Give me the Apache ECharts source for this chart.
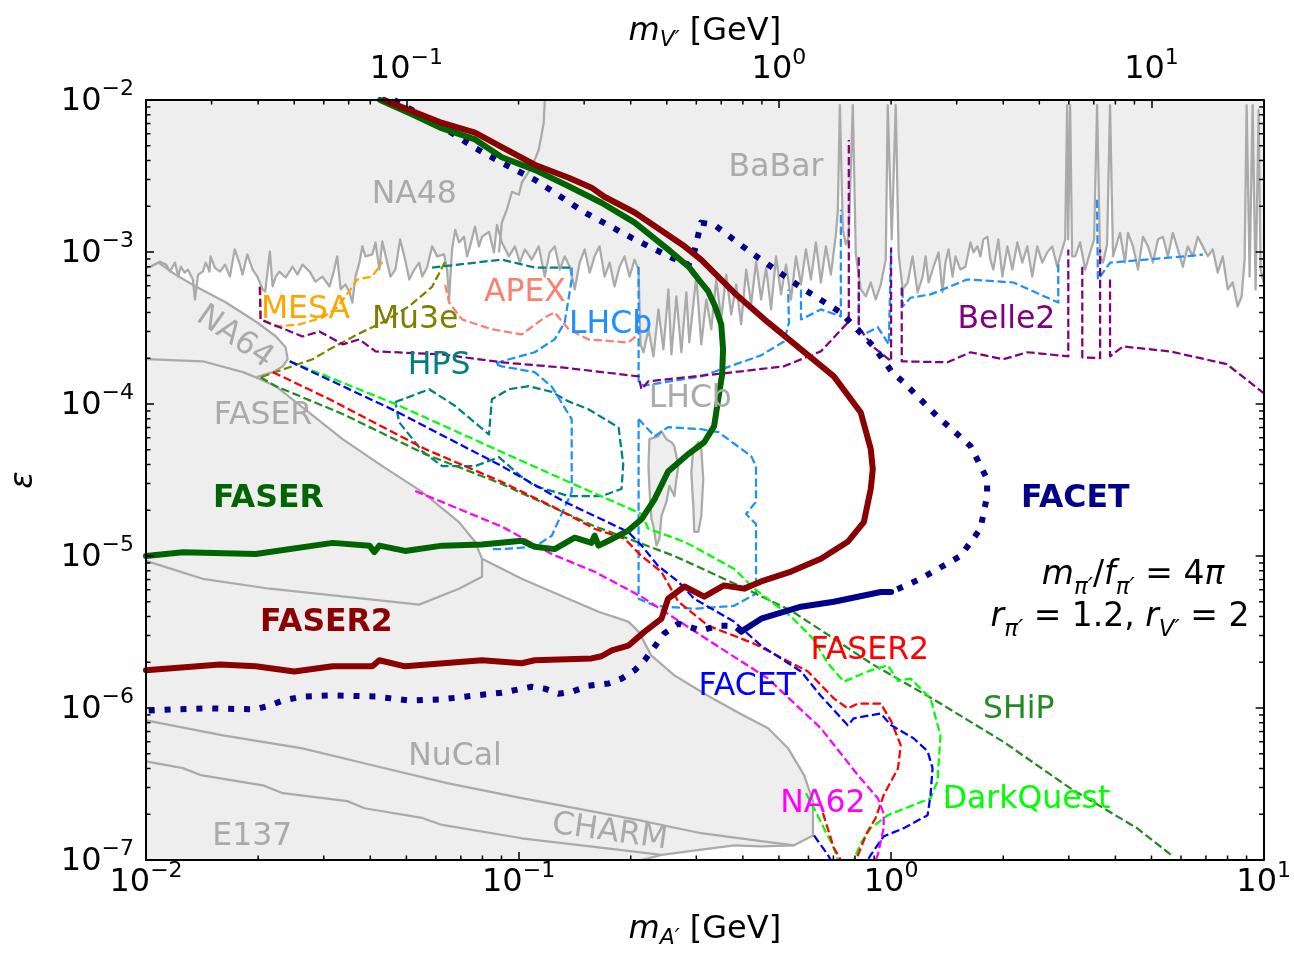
<!DOCTYPE html>
<html>
<head>
<meta charset="utf-8">
<script src="https://cdn.jsdelivr.net/npm/echarts@6/dist/echarts.min.js"></script>
<style>
  html, body { margin: 0; padding: 0; background: #ffffff; }
  #chart { width: 1294px; height: 954px; }
</style>
</head>
<body>
<div id="chart"></div>
<script>
// All points are [m_A' in GeV, epsilon].

// Upper boundary of the NA48 / BaBar excluded band (with resonance spikes).
const babarNa48Edge = [[0.0100,7.9e-4],[0.01025,8.0e-4],[0.0109,8.64e-4],[0.01132,8.26e-4],[0.0116,7.43e-4],[0.01196,8.52e-4],[0.0122,6.89e-4],[0.0124,8.0e-4],[0.0127,7.32e-4],[0.01295,7.66e-4],[0.01336,6.59e-4],[0.01353,4.87e-4],[0.0138,7.1e-4],[0.0142,7.43e-4],[0.01447,8.52e-4],[0.0148,7.43e-4],[0.0149,9.36e-4],[0.0153,7.9e-4],[0.0158,7.43e-4],[0.0163,8.26e-4],[0.0168,6.89e-4],[0.0173,1.04e-3],[0.0178,8.52e-4],[0.01817,7.1e-4],[0.0187,9.64e-4],[0.01933,7.66e-4],[0.0199,6.89e-4],[0.02056,5.67e-4],[0.0209,5.5e-4],[0.0215,1.01e-3],[0.02187,5.93e-4],[0.0223,6.89e-4],[0.0228,7.43e-4],[0.0237,6.79e-4],[0.02474,8.0e-4],[0.0255,7.1e-4],[0.02631,8.26e-4],[0.0275,7.43e-4],[0.0285,6.39e-4],[0.02976,6.89e-4],[0.0311,5.93e-4],[0.032,7.66e-4],[0.0326,9.36e-4],[0.0333,5.67e-4],[0.0343,6.11e-4],[0.0352,5.42e-4],[0.0358,4.65e-4],[0.0365,6.89e-4],[0.0374,8.52e-4],[0.03808,1.089e-3],[0.0388,9.36e-4],[0.0405,9.64e-4],[0.0413,1.156e-3],[0.0423,7.66e-4],[0.04308,1.174e-3],[0.0444,8.52e-4],[0.0453,6.89e-4],[0.0467,7.66e-4],[0.0481,1.21e-3],[0.0496,8.91e-4],[0.0509,6.59e-4],[0.0525,7.66e-4],[0.0541,8.52e-4],[0.05512,6.89e-4],[0.0568,7.9e-4],[0.05862,1.089e-3],[0.0605,9.36e-4],[0.0631,9.64e-4],[0.0643,7.66e-4],[0.0651,4.87e-4],[0.06631,1.04e-3],[0.0676,1.4e-3],[0.0692,1.156e-3],[0.0714,1.259e-3],[0.0727,9.36e-4],[0.0741,1.089e-3],[0.0764,1.466e-3],[0.0783,1.089e-3],[0.07977,1.259e-3],[0.0833,1.358e-3],[0.0859,9.94e-4],[0.0875,1.51e-3],[0.0902,1.156e-3],
  [0.0942,9.36e-4],[0.0978,1.089e-3],[0.1008,8.52e-4],[0.104,1.04e-3],[0.1085,8.91e-4],[0.1133,1.089e-3],[0.1176,6.89e-4],[0.1212,9.94e-4],[0.1251,1.089e-3],[0.129,7.66e-4],[0.133,9.36e-4],[0.1372,8.0e-4],[0.1415,5.67e-4],[0.1459,8.52e-4],[0.1505,1.04e-3],[0.1552,7.32e-4],[0.16,9.36e-4],[0.165,1.089e-3],[0.1702,6.89e-4],[0.1756,8.52e-4],[0.181,5.93e-4],[0.1867,8.0e-4],[0.1925,9.36e-4],[0.1986,6.89e-4],[0.2048,8.91e-4],[0.2099,7.66e-4],
  [0.2125,2.47e-4],[0.2165,2.19e-4],[0.2232,3.1e-4],[0.2302,2.06e-4],[0.2374,4.19e-4],[0.2448,2.29e-4],[0.2525,5.67e-4],[0.2572,2.12e-4],[0.2653,5.1e-4],[0.2735,2.19e-4],[0.2821,5.42e-4],[0.2873,2.54e-4],[0.300,6.89e-4],[0.3094,2.47e-4],[0.3191,4.87e-4],[0.3291,3.1e-4],[0.3394,6.59e-4],[0.3499,3.6e-4],[0.3609,7.1e-4],[0.3722,3.88e-4],[0.3839,6.11e-4],[0.3959,3.34e-4],[0.4083,7.66e-4],[0.421,4.52e-4],[0.4342,8.64e-4],[0.4478,4.87e-4],[0.4618,7.9e-4],[0.4762,4.19e-4],[0.4911,9.36e-4],[0.5065,5.26e-4],[0.5224,8.26e-4],[0.5387,4.87e-4],
  [0.5556,9.36e-4],[0.5729,6.11e-4],[0.5908,1.04e-3],[0.6093,6.59e-4],[0.6284,1.156e-3],[0.648,6.3e-4],[0.6683,1.089e-3],[0.6892,7.1e-4],[0.7108,1.298e-3],[0.7196,1.9e-3],[0.7286,9.27e-3],[0.7421,1.4e-3],[0.756,1.122e-3],[0.770,1.259e-3],[0.7893,9.27e-3],[0.804,9.64e-4],[0.8292,5.67e-4],[0.8552,5.1e-4],[0.8819,6.3e-4],[0.9095,4.87e-4],[0.938,6.11e-4],[0.9674,8.91e-4],[0.9794,9.27e-3],[1.004,1.21e-3],[1.029,9.27e-3],[1.048,9.64e-4],
  [1.074,5.67e-4],[1.108,6.3e-4],[1.142,9.36e-4],[1.178,5.42e-4],[1.215,6.89e-4],[1.238,9.36e-4],[1.261,6.3e-4],[1.30,8.0e-4],[1.341,9.94e-4],[1.374,5.42e-4],[1.399,8.52e-4],[1.426,1.04e-3],[1.462,6.89e-4],[1.489,9.36e-4],[1.535,7.66e-4],[1.583,8.0e-4],[1.633,1.156e-3],[1.664,9.94e-4],[1.705,1.089e-3],[1.737,9.36e-4],[1.769,1.21e-3],[1.814,1.259e-3],[1.847,8.91e-4],[1.882,7.66e-4],[1.94,1.21e-3],[1.989,6.89e-4],[2.052,1.089e-3],[2.116,7.66e-4],[2.182,1.156e-3],[2.25,8.52e-4],[2.32,1.089e-3],[2.393,6.89e-4],[2.468,1.089e-3],[2.545,8.52e-4],[2.625,9.94e-4],[2.707,1.089e-3],[2.792,8.0e-4],[2.879,1.04e-3],[2.933,1.21e-3],[2.969,9.27e-3],[2.988,1.21e-3],[3.024,9.27e-3],[3.061,9.36e-4],[3.119,9.36e-4],[3.217,1.156e-3],[3.318,7.66e-4],[3.421,9.94e-4],[3.507,1.21e-3],[3.572,9.27e-3],[3.639,9.36e-4],[3.707,8.52e-4],[3.80,1.122e-3],[3.87,9.27e-3],[3.942,9.36e-4],[4.116,1.338e-3],[4.245,8.52e-4],[4.324,1.338e-3],[4.46,1.089e-3],[4.60,7.66e-4],[4.743,1.259e-3],[4.892,1.089e-3],[5.045,8.52e-4],[5.203,1.21e-3],[5.366,1.259e-3],[5.534,9.36e-4],[5.706,1.338e-3],[5.884,1.04e-3],[6.068,8.0e-4],[6.258,1.089e-3],[6.454,9.36e-4],[6.657,1.259e-3],[6.865,1.089e-3],[7.08,9.36e-4],[7.301,1.04e-3],[7.53,7.32e-4],[7.765,9.36e-4],[8.008,5.67e-4],[8.259,6.3e-4],[8.517,4.38e-4],[8.729,5.1e-4],[8.892,8.91e-4],[9.002,9.27e-3],[9.17,6.89e-4],[9.341,9.27e-3],[9.516,5.67e-4],[9.694,8.6e-3],[9.81,7.66e-4],[10,6.3e-4]];

// Edge of the NA48 region inside the upper band.
const na48Edge = [[0.0886,9.94e-4],[0.0902,1.56e-3],[0.093,1.9e-3],[0.096,2.49e-3],[0.1002,2.38e-3],[0.102,2.86e-3],[0.1085,3.63e-3],[0.1133,4.7e-3],[0.1168,7.06e-3],[0.1176,1e-2]];

// NA64 + FASER + beam-dump envelope (lower-left excluded region).
const beamDumpEdge = [[0.0103,8.0e-4],[0.0108,8.52e-4],[0.012,7.1e-4],[0.0136,5.93e-4],[0.0164,4.65e-4],[0.0197,3.49e-4],[0.0223,2.79e-4],[0.0237,2.36e-4],[0.024,1.97e-4],[0.0233,1.77e-4],[0.0219,1.62e-4],[0.0197,1.5e-4],[0.0223,1.31e-4],[0.0243,1.11e-4],[0.0337,5.87e-5],[0.0431,3.9e-5],[0.0551,2.64e-5],[0.0692,1.67e-5],[0.0764,1.24e-5],[0.0798,9.58e-6],[0.102,7.08e-6],[0.1176,6.09e-6],[0.164,4.3e-6],[0.197,3.7e-6],[0.21,3.18e-6],[0.227,2.22e-6],[0.262,1.64e-6],[0.323,1.2e-6],[0.403,8.9e-7],[0.4675,7.35e-7],[0.529,5.43e-7],[0.584,3.62e-7],[0.617,2.44e-7],[0.617,1.45e-7],[0.549,1.25e-7],[0.448,1.23e-7],[0.379,1.25e-7],[0.242,1.08e-7],[0.214,1.0e-7]];
const na64LowerEdge = [[0.01,1.97e-4],[0.0142,1.91e-4],[0.0182,1.62e-4],[0.0197,1.5e-4]];
const orsayEdge = [[0.01,9.29e-6],[0.0142,7.08e-6],[0.0215,6.09e-6],[0.0541,4.79e-6],[0.0692,6.09e-6],[0.0798,7.3e-6],[0.0798,9.58e-6]];
const nucalEdge = [[0.01,8.3e-7],[0.0161,6.6e-7],[0.0263,5.43e-7],[0.0405,4.2e-7],[0.0643,3.2e-7],[0.102,2.55e-7],[0.21,1.83e-7],[0.309,1.5e-7],[0.448,1.33e-7],[0.549,1.25e-7]];
const e137CharmEdge = [[0.01,4.46e-7],[0.01256,4.02e-7],[0.014,3.62e-7],[0.0206,3.1e-7],[0.0233,2.75e-7],[0.0347,2.44e-7],[0.0386,2.19e-7],[0.0551,1.89e-7],[0.0624,1.7e-7],[0.102,1.39e-7],[0.1477,1.25e-7],[0.242,1.08e-7]];

// LHCb displaced-search excluded islands.
const lhcbIslandA = [[0.2246,5.87e-5],[0.2374,6.14e-5],[0.2418,6.63e-5],[0.2494,5.87e-5],[0.2572,5.61e-5],[0.262,5.28e-5],[0.2685,3.9e-5],[0.2653,3.21e-5],[0.262,2.48e-5],[0.254,2.89e-5],[0.2494,2.27e-5],[0.2418,1.83e-5],[0.2389,1.3e-5],[0.2345,1.17e-5],[0.2302,1.57e-5],[0.2274,1.75e-5],[0.2246,2.76e-5],[0.2232,3.9e-5]];
const lhcbIslandB = [[0.2945,5.05e-5],[0.3037,5.61e-5],[0.3094,5.05e-5],[0.3132,3.21e-5],[0.3094,1.83e-5],[0.3037,1.44e-5],[0.2963,1.44e-5],[0.2945,2.13e-5],[0.2909,3.56e-5]];

// Projected reaches (thick curves).
const faserReach = [[0.0425,1e-2],[0.0509,8.2e-3],[0.0624,6.5e-3],[0.0764,5.5e-3],[0.0902,4.2e-3],[0.1105,3.47e-3],[0.1355,2.73e-3],[0.167,2.11e-3],[0.205,1.56e-3],[0.252,1.04e-3],[0.286,8.0e-4],[0.309,6.3e-4],[0.323,5.5e-4],[0.337,4.4e-4],[0.35,3.34e-4],[0.354,2.29e-4],[0.352,1.57e-4],[0.3435,1.075e-4],[0.335,7.15e-5],[0.315,5.6e-5],[0.286,4.7e-5],[0.252,3.6e-5],[0.232,2.37e-5],[0.214,1.75e-5],[0.197,1.47e-5],[0.1745,1.26e-5],[0.164,1.17e-5],[0.16,1.36e-5],[0.157,1.22e-5],[0.1415,1.32e-5],[0.125,1.11e-5],[0.1105,1.15e-5],[0.102,1.26e-5],[0.0798,1.19e-5],[0.0624,1.17e-5],[0.0496,1.08e-5],[0.0423,1.17e-5],[0.041,1.06e-5],[0.0398,1.17e-5],[0.0317,1.22e-5],[0.0197,1.03e-5],[0.01256,1.06e-5],[0.01,1.0e-5]];
const faser2Reach = [[0.0436,1e-2],[0.0509,8.6e-3],[0.0624,7.06e-3],[0.0764,6.1e-3],[0.0902,4.9e-3],[0.1105,3.75e-3],[0.1363,3.08e-3],[0.157,2.65e-3],[0.170,2.31e-3],[0.205,1.82e-3],[0.279,1.09e-3],[0.309,8.9e-4],[0.379,5.4e-4],[0.4675,3.44e-4],[0.573,2.29e-4],[0.702,1.52e-4],[0.829,8.8e-5],[0.882,5.05e-5],[0.893,3.73e-5],[0.882,2.76e-5],[0.845,1.67e-5],[0.765,1.24e-5],[0.648,9.58e-6],[0.539,7.9e-6],[0.448,6.8e-6],[0.403,6.1e-6],[0.356,6.4e-6],[0.315,5.4e-6],[0.279,6.3e-6],[0.252,5.24e-6],[0.242,3.87e-6],[0.218,3.18e-6],[0.197,2.57e-6],[0.178,2.39e-6],[0.167,2.19e-6],[0.157,2.12e-6],[0.1105,2.06e-6],[0.102,1.97e-6],[0.0798,2.06e-6],[0.0496,1.88e-6],[0.0423,2.06e-6],[0.0405,1.88e-6],[0.0317,1.88e-6],[0.025,1.74e-6],[0.0197,1.88e-6],[0.0158,1.93e-6],[0.01,1.77e-6]];
const facetReachUpper = [[0.0464,1e-2],[0.0624,6.65e-3],[0.0764,4.84e-3],[0.0902,3.86e-3],[0.1105,2.99e-3],[0.1505,1.82e-3],[0.205,1.21e-3],[0.257,9.2e-4],[0.286,8.26e-4],[0.296,9.9e-4],[0.309,1.56e-3],[0.335,1.51e-3],[0.421,9.9e-4],[0.573,5.84e-4],[0.733,4.0e-4],[0.898,2.39e-4],[1.006,1.62e-4],[1.08,1.39e-4],[1.33,8.3e-5],[1.633,5.3e-5],[1.81,3.21e-5],[1.81,2.48e-5],[1.737,1.51e-5],[1.535,1.0e-5],[1.2,7.08e-6],[1.0,5.8e-6]];
const facetReachSolid = [[1.0,5.8e-6],[0.938,5.8e-6],[0.702,5.0e-6],[0.573,4.64e-6],[0.448,3.87e-6],[0.396,3.18e-6]];
const facetReachLower = [[0.396,3.18e-6],[0.379,3.48e-6],[0.344,3.48e-6],[0.309,3.23e-6],[0.2685,3.59e-6],[0.246,3.09e-6],[0.232,2.54e-6],[0.218,2.06e-6],[0.205,1.77e-6],[0.189,1.56e-6],[0.1745,1.45e-6],[0.154,1.40e-6],[0.1389,1.28e-6],[0.128,1.24e-6],[0.1176,1.34e-6],[0.1085,1.38e-6],[0.0902,1.26e-6],[0.0764,1.21e-6],[0.0624,1.14e-6],[0.0509,1.12e-6],[0.0413,1.19e-6],[0.0317,1.21e-6],[0.0263,1.19e-6],[0.0233,1.12e-6],[0.0215,1.04e-6],[0.0197,9.8e-7],[0.0148,9.94e-7],[0.012,9.8e-7],[0.01,9.6e-7]];

// Other experiments (thin dashed curves).
const mesaCurve = [[0.0203,5.9e-4],[0.0203,3.6e-4],[0.0223,3.24e-4],[0.0258,3.34e-4],[0.0298,3.71e-4],[0.0326,4.32e-4],[0.0354,5.67e-4],[0.0369,6.59e-4],[0.0405,6.9e-4],[0.0431,8.6e-4]];
const mu3eCurve = [[0.0635,8.6e-4],[0.0586,5.9e-4],[0.0509,4.4e-4],[0.0431,3.44e-4],[0.0369,2.87e-4],[0.0311,2.29e-4],[0.028,1.97e-4],[0.0203,1.5e-4]];
const apexCurve = [[0.0635,6.1e-4],[0.0651,4.65e-4],[0.0705,3.6e-4],[0.0848,3.1e-4],[0.102,2.87e-4],[0.1176,3.71e-4],[0.125,4.0e-4],[0.1363,3.1e-4],[0.154,2.66e-4],[0.197,2.54e-4],[0.21,2.87e-4]];
const hpsTop = [[0.0586,7.9e-4],[0.0902,8.91e-4],[0.1105,7.9e-4],[0.1389,7.9e-4]];
const hpsLoop = [[0.0467,1.03e-4],[0.0576,1.25e-4],[0.0676,9.7e-5],[0.0833,6.3e-5],[0.0848,1.075e-4],[0.0942,1.25e-4],[0.1066,1.31e-4],[0.1228,1.2e-4],[0.1363,1.04e-4],[0.154,9.24e-5],[0.1856,7.0e-5],[0.191,4.0e-5],[0.189,2.76e-5],[0.167,2.48e-5],[0.1363,2.48e-5],[0.1105,2.89e-5],[0.102,3.31e-5],[0.0886,4.47e-5],[0.0764,3.9e-5],[0.0624,3.9e-5],[0.0551,4.9e-5],[0.0478,7.6e-5],[0.0467,1.03e-4]];
const lhcbPrompt = [[0.1389,7.9e-4],[0.1389,6.59e-4],[0.133,3.44e-4],[0.125,2.66e-4],[0.1105,2.19e-4],[0.0902,1.91e-4],[0.0864,1.83e-4],[0.0902,1.77e-4],[0.1105,1.62e-4],[0.1228,1.3e-4],[0.1389,7.95e-5],[0.1389,2.64e-5],[0.1228,1.36e-5],[0.1105,1.15e-5],[0.0902,1.11e-5],[0.0848,1.11e-5]];
const lhcbHighMass = [
  [[0.21,8.0e-4],[0.21,1.41e-4],[0.2165,1.32e-4],[0.309,1.52e-4],[0.448,2.09e-4],[0.516,2.58e-4],[0.532,3.44e-4],[0.529,5.67e-4]],
  [[0.573,5.67e-4],[0.573,3.6e-4],[0.648,4.19e-4],[0.733,3.77e-4],[0.733,1.9e-3]],
  [[0.819,5.5e-4],[0.819,3.2e-4],[0.845,2.87e-4],[0.921,3.2e-4],[0.986,2.47e-4],[1.0,1.07e-3]],
  [[1.074,5.67e-4],[1.074,4.38e-4],[1.128,5.0e-4],[1.276,5.26e-4],[1.6,6.59e-4],[2.13,6.3e-4],[2.81,4.65e-4],[2.81,8.5e-4]],
  [[3.57,2.21e-3],[3.59,6.59e-4],[3.87,8.5e-4],[6.87,9.6e-4]]
];
const lhcbDisplaced = [[0.21,7.95e-5],[0.21,5.24e-6],[0.232,4.7e-6],[0.296,4.5e-6],[0.379,4.7e-6],[0.434,5.65e-6],[0.434,1.62e-5],[0.408,1.89e-5],[0.434,2.27e-5],[0.434,3.9e-5],[0.421,4.54e-5],[0.344,6.53e-5],[0.309,6.83e-5],[0.252,7.04e-5],[0.232,6.14e-5],[0.21,7.95e-5]];
const belle2Curve = [
  [[0.0202,5.9e-4],[0.0203,3.6e-4],[0.0263,2.78e-4],[0.0292,3.0e-4],[0.0337,2.47e-4],[0.0374,2.66e-4],[0.0413,2.22e-4],[0.0624,2.12e-4],[0.0902,1.88e-4],[0.1306,1.74e-4],[0.21,1.52e-4],[0.2138,1.25e-4],[0.223,1.41e-4],[0.379,1.62e-4],[0.516,1.77e-4],[0.648,2.22e-4],[0.77,3.49e-4],[0.77,5.46e-3]],
  [[0.819,9.22e-4],[0.819,3.2e-4],[0.845,2.87e-4],[0.898,2.36e-4],[1.0,1.91e-4],[1.0,1.07e-3]],
  [[1.068,5.84e-4],[1.068,1.91e-4],[1.417,1.88e-4],[1.633,2.19e-4],[2.0,1.97e-4],[2.32,2.19e-4],[2.99,2.06e-4],[2.99,1.04e-3]],
  [[3.26,8.0e-4],[3.26,2.03e-4],[3.64,2.0e-4],[3.64,1.04e-3]],
  [[3.87,6.59e-4],[3.87,2.06e-4],[4.19,2.39e-4],[5.6,2.22e-4],[7.96,1.83e-4],[10,1.18e-4]]
];
const shipCurve = [[0.0203,1.5e-4],[0.0223,1.31e-4],[0.0337,8.6e-5],[0.0562,4.68e-5],[0.0902,2.98e-5],[0.1105,2.37e-5],[0.16,1.57e-5],[0.197,1.3e-5],[0.262,1.0e-5],[0.396,6.28e-6],[0.539,4.37e-6],[0.702,2.86e-6],[0.882,1.97e-6],[1.332,1.1e-6],[2.0,6.0e-7],[3.024,2.97e-7],[4.57,1.62e-7],[5.7,1.06e-7]];
const darkQuestCurve = [
  [[0.0243,1.91e-4],[0.0467,1.0e-4],[0.0902,4.83e-5],[0.1363,3.07e-5],[0.214,1.89e-5],[0.223,1.51e-5],[0.279,1.24e-5],[0.379,8.24e-6],[0.429,6.09e-6],[0.539,4.0e-6],[0.617,2.86e-6],[0.6765,1.97e-6],[0.747,1.49e-6],[0.866,1.74e-6],[0.979,1.91e-6],[1.044,1.51e-6],[1.128,1.56e-6],[1.276,1.156e-6],[1.357,6.6e-7],[1.332,3.3e-7],[1.276,2.55e-7],[0.979,1.97e-7],[0.882,1.62e-7],[0.829,1.29e-7],[0.794,1.0e-7]],
  [[0.591,2.75e-7],[0.621,2.19e-7],[0.702,1.2e-7],[0.72,1.0e-7]]
];
const faser2Curve = [
  [[0.0219,1.62e-4],[0.0311,1.075e-4],[0.0562,5.05e-5],[0.0902,3.07e-5],[0.1228,2.13e-5],[0.16,1.51e-5],[0.1925,1.3e-5],[0.2138,1.0e-5],[0.2418,7.87e-6],[0.2685,5.0e-6],[0.323,3.48e-6],[0.429,2.65e-6],[0.598,1.74e-6],[0.702,1.156e-6],[0.765,9.94e-7],[0.814,1.07e-6],[0.938,1.07e-6],[1.0,8.2e-7],[1.061,5.7e-7],[1.044,4.02e-7],[0.955,2.67e-7],[0.909,1.89e-7],[0.86,1.5e-7],[0.819,1.11e-7],[0.804,1.0e-7]],
  [[0.656,2.04e-7],[0.702,1.2e-7],[0.733,1.0e-7]]
];
const facetCurve = [
  [[0.0243,1.91e-4],[0.0467,9.0e-5],[0.0902,3.9e-5],[0.133,2.27e-5],[0.197,1.44e-5],[0.214,1.17e-5],[0.237,8.6e-6],[0.2685,6.77e-6],[0.296,5.24e-6],[0.379,3.7e-6],[0.448,2.57e-6],[0.573,1.74e-6],[0.648,1.2e-6],[0.765,7.7e-7],[0.794,8.55e-7],[0.938,9.2e-7],[1.0,7.7e-7],[1.149,6.32e-7],[1.253,5.2e-7],[1.292,4.02e-7],[1.276,2.67e-7],[1.253,1.97e-7],[1.081,1.62e-7],[0.955,1.43e-7],[0.882,1.08e-7],[0.866,1.0e-7]],
  [[0.621,1.45e-7],[0.6765,1.08e-7],[0.689,1.0e-7]]
];
const na62Curve = [[0.0528,2.68e-5],[0.0902,1.56e-5],[0.1228,1.03e-5],[0.16,7.87e-6],[0.2138,5.4e-6],[0.309,3.0e-6],[0.4675,1.56e-6],[0.648,7.35e-7],[0.814,3.62e-7],[0.921,2.55e-7],[0.955,2.03e-7],[0.955,1.62e-7],[0.921,1.08e-7],[0.909,1.0e-7]];

// Axis ticks.
const xDecades = [0.01, 0.1, 1];          // bottom axis, m_A'
const vDecades = [0.01, 0.1, 1, 10];      // top axis, m_V'
const yDecades = [1e-7, 1e-6, 1e-5, 1e-4, 1e-3];
const minorMantissas = [2, 3, 4, 5, 6, 7, 8, 9];

// Text annotations anchored in data coordinates.
const GRAY = '#aaaaaa';
const annotations = [
  { text: 'NA48', at: [0.0525, 2.38e-3], color: GRAY },
  { text: 'BaBar', at: [0.491, 3.58e-3], color: GRAY },
  { text: 'MESA', at: [0.0268, 4.19e-4], color: '#ffa500' },
  { text: 'Mu3e', at: [0.0528, 3.6e-4], color: '#808000' },
  { text: 'APEX', at: [0.104, 5.42e-4], color: '#fa8072' },
  { text: 'LHCb', at: [0.1766, 3.34e-4], color: '#1e90ff' },
  { text: 'HPS', at: [0.0612, 1.77e-4], color: '#008080' },
  { text: 'NA64', at: [0.0173, 2.74e-4], color: GRAY, rotate: -35 },
  { text: 'FASER', at: [0.0206, 8.3e-5], color: GRAY },
  { text: 'LHCb', at: [0.289, 1.075e-4], color: GRAY },
  { text: 'Belle2', at: [2.04, 3.6e-4], color: '#800080' },
  { text: 'FASER', at: [0.0213, 2.37e-5], color: '#006400', bold: true },
  { text: 'FASER2', at: [0.0305, 3.64e-6], color: '#8b0000', bold: true },
  { text: 'FACET', at: [3.12, 2.37e-5], color: '#00008b', bold: true },
  { text: '{i|m}{sub|\u03c0\u2032}{n|/}{i|f}{sub|\u03c0\u2032}{n| = 4}{i|\u03c0}', at: [4.46, 7.3e-6], color: '#000', math: true },
  { text: '{i|r}{sub|\u03c0\u2032}{n| = 1.2, }{i|r}{sub|V\u2032}{n| = 2}', at: [4.116, 3.87e-6], color: '#000', math: true },
  { text: 'FASER2', at: [0.877, 2.39e-6], color: '#ff0000' },
  { text: 'FACET', at: [0.411, 1.38e-6], color: '#0000ff' },
  { text: 'SHiP', at: [2.2, 9.8e-7], color: '#228b22' },
  { text: 'NA62', at: [0.656, 2.36e-7], color: '#ff00ff' },
  { text: 'DarkQuest', at: [2.31, 2.47e-7], color: '#00ff00' },
  { text: 'NuCal', at: [0.0675, 4.74e-7], color: GRAY },
  { text: 'E137', at: [0.0193, 1.43e-7], color: GRAY },
  { text: 'CHARM', at: [0.1756, 1.52e-7], color: GRAY, rotate: -8 }
];

// ---------------------------------------------------------------------------
const FONT = 'DejaVu Sans';
const FILL = '#eeeeee';
const DASH = [8.3, 3.6];
const DOT = [6, 9.9];

function mathRich(size, subSize, drop) {
  return {
    i: { fontFamily: FONT, fontStyle: 'italic', fontSize: size, color: '#000', lineHeight: size + 2, verticalAlign: 'top' },
    n: { fontFamily: FONT, fontSize: size, color: '#000', lineHeight: size + 2, verticalAlign: 'top' },
    sub: { fontFamily: FONT, fontStyle: 'italic', fontSize: subSize, color: '#000', lineHeight: subSize, padding: [drop, 0, 0, 0], verticalAlign: 'top' }
  };
}
// "10" sits at the bottom of a tall line, the exponent at its top.
const supRich = {
  b: { fontFamily: FONT, fontSize: 32, color: '#000', lineHeight: 43, padding: [0, 0, 4, 0], verticalAlign: 'bottom' },
  s: { fontFamily: FONT, fontSize: 22, color: '#000', lineHeight: 22, verticalAlign: 'top' }
};
function decadeLabel(v) {
  const e = Math.log10(v);
  const r = Math.round(e);
  if (Math.abs(e - r) > 1e-6) return '';
  return '{b|10}{s|' + (r < 0 ? '\u2212' + (-r) : String(r)) + '}';
}

const series = [];

function addRegion(points, z) {
  series.push({
    type: 'custom', xAxisIndex: 0, yAxisIndex: 0, z: z, silent: true,
    data: [[1, 1e-4]],
    renderItem: function (params, api) {
      return { type: 'polygon', shape: { points: points.map(function (p) { return api.coord(p); }) },
               style: { fill: FILL, stroke: null } };
    }
  });
}
function addIsland(points, z) {
  series.push({
    type: 'custom', xAxisIndex: 0, yAxisIndex: 0, z: z, silent: true,
    data: [[1, 1e-4]],
    renderItem: function (params, api) {
      return { type: 'polygon', shape: { points: points.map(function (p) { return api.coord(p); }) },
               style: { fill: FILL, stroke: GRAY, lineWidth: 2.25, lineJoin: 'round' } };
    }
  });
}
function addLine(points, color, width, type, z, cap) {
  series.push({
    type: 'line', data: points, symbol: 'none', showSymbol: false, silent: true, z: z,
    smooth: false, clip: true, animation: false,
    lineStyle: { color: color, width: width, type: type || 'solid', cap: cap || 'butt', join: 'round' },
    emphasis: { disabled: true }
  });
}
function addSegments(segs, color, width, type, z) {
  segs.forEach(function (s) { addLine(s, color, width, type, z); });
}

// Excluded regions
addRegion(babarNa48Edge.concat([[10, 1e-2], [0.01, 1e-2]]), 1);
addRegion([[0.01, 7.8e-4]].concat(beamDumpEdge, [[0.01, 1e-7]]), 1);
addIsland(lhcbIslandA, 2);
addIsland(lhcbIslandB, 2);

// Excluded-region edges
addLine(babarNa48Edge, GRAY, 2.25, 'solid', 2);
addLine(na48Edge, GRAY, 2.25, 'solid', 2);
addLine(beamDumpEdge, GRAY, 2.25, 'solid', 2);
addLine(na64LowerEdge, GRAY, 2.25, 'solid', 2);
addLine(orsayEdge, GRAY, 2.25, 'solid', 2);
addLine(nucalEdge, GRAY, 2.25, 'solid', 2);
addLine(e137CharmEdge, GRAY, 2.25, 'solid', 2);

// Other experiments
addLine(mesaCurve, '#ffa500', 2.25, DASH, 3);
addLine(mu3eCurve, '#808000', 2.25, DASH, 3);
addLine(apexCurve, '#fa8072', 2.25, DASH, 3);
addLine(hpsTop, '#008080', 2.25, DASH, 3);
addLine(hpsLoop, '#008080', 2.25, DASH, 3);
addLine(lhcbPrompt, '#1e90ff', 2.25, DASH, 3);
addSegments(lhcbHighMass, '#1e90ff', 2.25, DASH, 3);
addLine(lhcbDisplaced, '#1e90ff', 2.25, DASH, 3);
addSegments(belle2Curve, '#800080', 2.25, DASH, 3);
addLine(shipCurve, '#228b22', 2.25, DASH, 3);
addSegments(darkQuestCurve, '#00ff00', 2.25, DASH, 3);
addSegments(faser2Curve, '#ff0000', 2.25, DASH, 3);
addSegments(facetCurve, '#0000ff', 2.25, DASH, 3);
addLine(na62Curve, '#ff00ff', 2.25, DASH, 3);

// Projected reaches
addLine(facetReachUpper, '#00008b', 6, DOT, 4);
addLine(facetReachLower, '#00008b', 6, DOT, 4);
addLine(facetReachSolid, '#00008b', 6, 'solid', 5, 'round');
addLine(faserReach, '#006400', 6, 'solid', 5, 'round');
addLine(faser2Reach, '#8b0000', 6, 'solid', 5, 'round');

// Minor ticks
const xMinor = [], vMinor = [], yMinor = [];
xDecades.forEach(function (d) { minorMantissas.forEach(function (k) { xMinor.push(k * d); }); });
vDecades.forEach(function (d) { minorMantissas.forEach(function (k) { const v = k * d; if (v > 0.02 && v < 20) vMinor.push(v); }); });
yDecades.forEach(function (d) { minorMantissas.forEach(function (k) { yMinor.push(k * d); }); });
const TICK = { stroke: '#000', lineWidth: 1.5 };
series.push({
  type: 'custom', xAxisIndex: 0, yAxisIndex: 0, z: 20, silent: true, clip: false,
  data: xMinor.map(function (v) { return [v, 1e-7]; }),
  renderItem: function (params, api) {
    const p = api.coord([api.value(0), 1e-7]);
    return { type: 'line', shape: { x1: p[0], y1: p[1], x2: p[0], y2: p[1] - 4.5 }, style: TICK };
  }
});
series.push({
  type: 'custom', xAxisIndex: 1, yAxisIndex: 0, z: 20, silent: true, clip: false,
  data: vMinor.map(function (v) { return [v, 1e-2]; }),
  renderItem: function (params, api) {
    const p = api.coord([api.value(0), 1e-2]);
    return { type: 'line', shape: { x1: p[0], y1: p[1], x2: p[0], y2: p[1] + 4.5 }, style: TICK };
  }
});
series.push({
  type: 'custom', xAxisIndex: 0, yAxisIndex: 0, z: 20, silent: true, clip: false,
  data: yMinor.map(function (v) { return [1, v]; }),
  renderItem: function (params, api) {
    const a = api.coord([0.01, api.value(1)]);
    const b = api.coord([10, api.value(1)]);
    return { type: 'group', children: [
      { type: 'line', shape: { x1: a[0], y1: a[1], x2: a[0] + 4.5, y2: a[1] }, style: TICK },
      { type: 'line', shape: { x1: b[0], y1: b[1], x2: b[0] - 4.5, y2: b[1] }, style: TICK }
    ] };
  }
});

// Annotations
series.push({
  type: 'scatter', z: 30, silent: true, symbolSize: 1,
  itemStyle: { color: 'rgba(0,0,0,0)', opacity: 1 },
  data: annotations.map(function (a) {
    return {
      value: a.at,
      label: {
        show: true, position: 'inside', formatter: a.text, color: a.color, opacity: 1,
        fontFamily: FONT, fontSize: 31.5, fontWeight: a.bold ? 'bold' : 'normal',
        textBorderWidth: 0,
        rotate: a.rotate || 0,
        rich: a.math ? mathRich(33, 23, 17) : undefined
      }
    };
  })
});

const axisLineStyle = { color: '#000', width: 2 };
const majorTick = { show: true, inside: true, length: 8, lineStyle: { color: '#000', width: 1.5 } };

const option = {
  animation: false,
  backgroundColor: '#ffffff',
  grid: { left: 143, right: 30, top: 100, bottom: 92, containLabel: false, show: false },
  xAxis: [
    {
      type: 'log', logBase: 10, min: 0.01, max: 10, position: 'bottom', z: 25,
      axisLine: { show: true, onZero: false, lineStyle: axisLineStyle },
      axisTick: majorTick, minorTick: { show: false }, splitLine: { show: false },
      axisLabel: { show: true, margin: 0, formatter: decadeLabel, rich: supRich, showMinLabel: true, showMaxLabel: true, hideOverlap: false },
      name: '{i|m}{sub|A\u2032}{n| [GeV]}', nameLocation: 'middle', nameGap: 54, nameMoveOverlap: false,
      nameTextStyle: { rich: mathRich(32, 22, 13) }
    },
    {
      type: 'log', logBase: 10, min: 0.02, max: 20, position: 'top', z: 25,
      axisLine: { show: true, onZero: false, lineStyle: axisLineStyle },
      axisTick: majorTick, minorTick: { show: false }, splitLine: { show: false },
      axisLabel: { show: true, margin: 10, formatter: decadeLabel, rich: supRich, hideOverlap: false },
      name: '{i|m}{sub|V\u2032}{n| [GeV]}', nameLocation: 'middle', nameGap: 50, nameMoveOverlap: false,
      nameTextStyle: { rich: mathRich(32, 22, 13) }
    }
  ],
  yAxis: [
    {
      type: 'log', logBase: 10, min: 1e-7, max: 1e-2, position: 'left', z: 25,
      axisLine: { show: true, onZero: false, lineStyle: axisLineStyle },
      axisTick: majorTick, minorTick: { show: false }, splitLine: { show: false },
      axisLabel: { show: true, margin: 12, formatter: decadeLabel, rich: supRich, showMinLabel: true, showMaxLabel: true, hideOverlap: false },
      name: '{i|\u03b5}', nameLocation: 'middle', nameGap: 104, nameRotate: 90, nameMoveOverlap: false,
      nameTextStyle: { rich: mathRich(32, 22, 13) }
    },
    {
      type: 'log', logBase: 10, min: 1e-7, max: 1e-2, position: 'right', z: 25,
      axisLine: { show: true, onZero: false, lineStyle: axisLineStyle },
      axisTick: majorTick, minorTick: { show: false }, splitLine: { show: false },
      axisLabel: { show: false }
    }
  ],
  series: series
};

const chart = echarts.init(document.getElementById('chart'), null, { renderer: 'canvas' });
chart.setOption(option);
</script>
</body>
</html>
